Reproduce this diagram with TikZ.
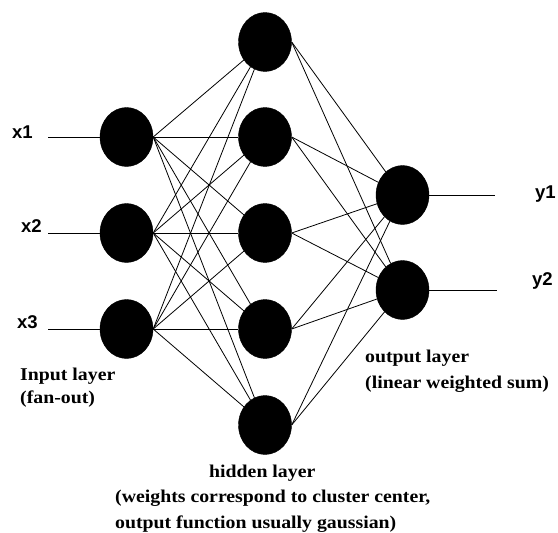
\documentclass[tikz,border=0pt]{standalone}
\usepackage{fontspec}
\usetikzlibrary{shapes.geometric}
\newfontfamily\lblfont{Liberation Sans}
\newfontfamily\capfont{Liberation Serif}[FakeStretch=1.1]
\begin{document}
\begin{tikzpicture}[x=1pt,y=-1pt,
  neuron/.style={ellipse, fill=black, draw=black, minimum width=53pt, minimum height=59pt, inner sep=0pt},
  conn/.style={line width=0.8pt},
  caption/.style={font=\capfont\bfseries\fontsize{18}{25}\selectfont, anchor=base west, inner sep=0pt},
  iolabel/.style={font=\lblfont\bfseries\fontsize{18.5}{20}\selectfont, anchor=base west, inner sep=0pt}]
\useasboundingbox (0,0) rectangle (558,533);
% input layer
\node[neuron] (i1) at (126.5,137) {};
\node[neuron] (i2) at (126.5,233) {};
\node[neuron] (i3) at (126.5,329) {};
% hidden layer
\node[neuron] (h1) at (265,42) {};
\node[neuron] (h2) at (265,137) {};
\node[neuron] (h3) at (265,233) {};
\node[neuron] (h4) at (265,329) {};
\node[neuron] (h5) at (265,425) {};
% output layer
\node[neuron] (o1) at (402.5,195) {};
\node[neuron] (o2) at (402.5,290) {};
% connections
\foreach \i in {1,2,3}
  \foreach \h in {1,...,5}
    \draw[conn] (i\i.east) -- (h\h);
\foreach \h in {1,...,5}
  \foreach \o in {1,2}
    \draw[conn] (h\h.east) -- (o\o);
% input / output lines
\coordinate (sx1) at (48,137);
\coordinate (sx2) at (48,233);
\coordinate (sx3) at (48,329);
\draw[conn] (sx1) -- (i1.west);
\draw[conn] (sx2) -- (i2.west);
\draw[conn] (sx3) -- (i3.west);
\coordinate (ey1) at (495,195);
\coordinate (ey2) at (497,290);
\draw[conn] (o1.east) -- (ey1);
\draw[conn] (o2.east) -- (ey2);
% labels
\node[iolabel] (lx1) at (12,138) {x1};
\node[iolabel] (lx2) at (21,232) {x2};
\node[iolabel] (lx3) at (17,328) {x3};
\node[iolabel] (ly1) at (535,198) {y1};
\node[iolabel] (ly2) at (532,285) {y2};
% captions
\node[caption] (capin1) at (20,380) {Input layer};
\node[caption] (capin2) at (20,403) {(fan-out)};
\node[caption] (caph1) at (209,477) {hidden layer};
\node[caption] (caph2) at (115,502.5) {(weights correspond to cluster center,};
\node[caption] (caph3) at (115,528) {output function usually gaussian)};
\node[caption] (capo1) at (365,362) {output layer};
\node[caption] (capo2) at (365,388) {(linear weighted sum)};
\end{tikzpicture}
\end{document}
